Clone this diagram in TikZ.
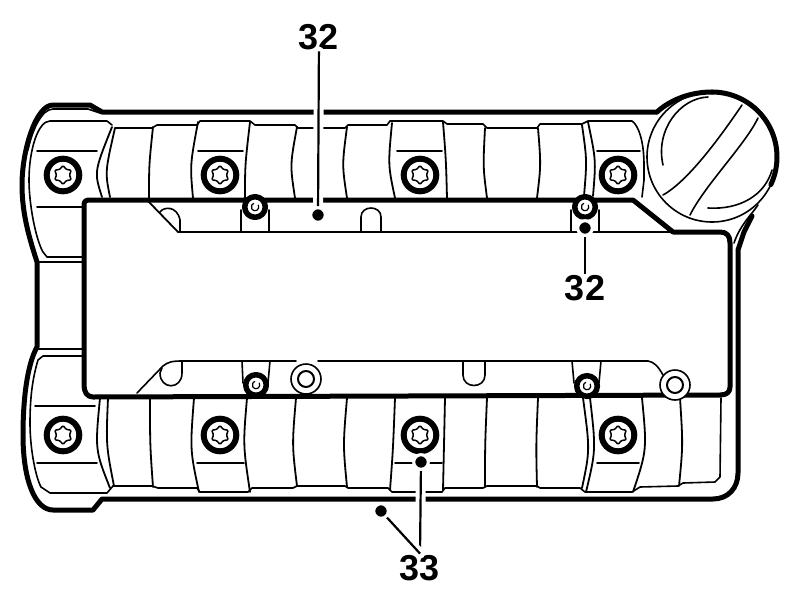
\documentclass[tikz,border=0pt]{standalone}
\usepackage{fontspec}
\setmainfont{Liberation Sans}
\begin{document}
\begin{tikzpicture}[
        x = 1pt,
        y = -1pt,
        line join = round,
        line cap = round,
        heavy/.style = {line width = 5pt},
        fine/.style = {line width = 1.6pt},
        rib/.style = {line width = 1.8pt},
        callout/.style = {font = \fontsize{36}{36}\selectfont\bfseries, inner sep = 1.5pt},
        leader/.style = {line width = 2.2pt, line cap = butt, preaction = {draw, white, line width = 10pt}},
        leaderdot/.style = {circle, fill = black, draw = white, line width = 3pt, inner sep = 0pt, minimum size = 14.5pt}
    ]
        \useasboundingbox (0,0) rectangle (800,613);
        \fill[white] (0,0) rectangle (800,613);
        \draw[heavy] (657,112) -- (102,112) -- (90,105) -- (53,105) .. controls (36,105) and (22,150) .. (22,185)
            .. controls (22,215) and (30,240) .. (37,262) -- (37,347) .. controls (27,365) and (23,400) .. (23,435)
            .. controls (23,480) and (35,510) .. (53,510) -- (93,510) -- (102,499) -- (713,499)
            .. controls (728,499) and (738,488) .. (738,473) -- (738,250) -- (744,232) -- (752,216);
        \draw[fine] (734,243) .. controls (740,225) and (752,214) .. (758,205);
        \draw[fine] (100,113) -- (88,109) -- (53,109) .. controls (42,109) and (32,130) .. (28,150);
        \draw[fine] (112,125) -- (107,121) -- (50,121) .. controls (38,121) and (29,150) .. (29,180)
            .. controls (29,205) and (36,240) .. (43,252) -- (47,257) -- (82,257);
        \draw[fine] (37,262) -- (82,262);
        \draw[fine] (35,349) -- (82,349);
        \draw[fine] (82,356) -- (43,356) -- (38,360) .. controls (32,380) and (30,400) .. (30,423)
            .. controls (30,450) and (36,478) .. (41,487) -- (50,493) -- (107,493) -- (113,486);
        \draw[fine] (115,128) -- (152,128) -- (157,125) -- (197,125) -- (200,121) -- (250,121) -- (255,125)
            -- (295,125) -- (298,128) -- (345,128) -- (348,125) -- (387,125) -- (390,121) -- (443,121)
            -- (447,124) -- (483,124) -- (487,128) -- (537,128) -- (540,124) -- (582,124) -- (588,121)
            -- (632,121) .. controls (638,125) and (644,140) .. (644,165) -- (644,180) -- (642,197);
        \draw[fine] (113,486) -- (152,486) -- (158,488) -- (197,488) -- (200,492) -- (248,492) -- (252,488)
            -- (293,488) -- (297,486) -- (345,486) -- (348,488) -- (388,488) -- (392,492) -- (442,492)
            -- (445,488) -- (483,488) -- (487,486) -- (537,486) -- (540,488) -- (580,488) -- (585,492)
            -- (632,492) -- (640,487) -- (678,486) -- (683,483) -- (715,482) -- (720,477) -- (721,398);
        \foreach \ax/\ay/\bx/\by/\cx/\cy in {
            112/127/94/172/102/197, 115/128/105/172/110/197, 153/127/149/165/149/198,
            198/122/190/165/193/198, 250/122/245/165/245/198, 297/127/290/165/295/198,
            347/127/342/165/347/198, 392/123/388/165/395/198, 443/122/446/160/447/198,
            485/128/483/167/487/198, 538/128/541/165/537/198, 582/125/587/160/584/196,
            588/122/596/160/593/196,
            108/398/106/445/114/486, 100/398/95/450/110/488, 150/398/150/445/153/487,
            194/398/190/450/199/492, 247/398/243/445/250/492, 296/398/292/445/297/486,
            347/398/343/445/347/487, 395/398/393/450/390/490, 445/398/444/445/443/490,
            487/398/485/445/485/486, 538/398/536/445/537/487, 583/398/590/450/582/488,
            590/398/596/450/586/492, 642/398/647/450/633/492, 680/398/683/445/679/486}
            \draw[rib] (\ax,\ay) .. controls (\bx,\by) .. (\cx,\cy);
        \foreach \ax/\bx/\ly in {
            37/97/151, 198/243/151, 397/442/151, 597/640/151, 37/82/207,
            35/95/406, 37/97/463, 197/244/463, 395/442/463, 597/639/463}
            \draw[rib] (\ax,\ly) -- (\bx,\ly);
        \draw[heavy] (147,200) -- (633,200) -- (673,232) -- (720,232) .. controls (727,232) and (730,236) .. (730,243)
            -- (730,387) .. controls (730,392) and (727,395) .. (720,395) -- (93,397)
            .. controls (87,397) and (84,392) .. (84,385) -- (84,205) .. controls (84,201) and (86,200) .. (90,200) -- (147,200);
        \draw[rib] (147,200) -- (178,232) -- (673,232);
        \draw[fine] (160,212) .. controls (163,207) and (177,205) .. (180,220) -- (180,232);
        \draw[fine] (361,232) -- (361,217) .. controls (361,205) and (381,205) .. (381,217) -- (381,232);
        \draw[fine] (241,210) -- (241,232);
        \draw[fine] (269,210) -- (269,232);
        \draw[fine] (571,210) -- (571,232);
        \draw[fine] (599,210) -- (599,232);
        \draw[fine] (137,393) -- (163,366) .. controls (168,362) and (172,361) .. (182,361) -- (296,361);
        \draw[fine] (318,361) -- (648,361) .. controls (654,362) and (658,366) .. (663,375);
        \draw[fine] (182,361) -- (182,373) .. controls (182,390) and (160,390) .. (160,373) -- (162,368);
        \draw[fine] (463,361) -- (463,375) .. controls (463,389) and (485,389) .. (485,375) -- (485,361);
        \draw[fine] (242,361) -- (243,383);
        \draw[fine] (270,361) -- (268,383);
        \draw[fine] (572,361) -- (574,383);
        \draw[fine] (601,361) -- (599,383);
        \foreach \bx/\by in {63/175, 220/175, 420/175, 618/175, 63/435, 220/435, 420/435, 618/435} {
            \begin{scope}[shift={(\bx,\by)}]
                \draw[fill = white, line width = 6pt] (0,0) circle (16.3);
                \draw[line width = 1.5pt, rounded corners = 1pt] (90:9.5) -- (120:6.5) -- (150:9.5) -- (180:6.5)
                    -- (210:9.5) -- (240:6.5) -- (270:9.5) -- (300:6.5) -- (330:9.5) -- (0:6.5)
                    -- (30:9.5) -- (60:6.5) -- cycle;
            \end{scope}
        }
        \foreach \bx/\by in {255/207, 585/207, 256/385, 587/386} {
            \begin{scope}[shift={(\bx,\by)}]
                \draw[fill = white, line width = 5.5pt] (0,0) circle (10.3);
                \draw[line width = 1.2pt] (-30:3.8) arc[start angle = -30, end angle = 250, radius = 3.8];
            \end{scope}
        }
        \foreach \bx/\by in {306/379, 675/385} {
            \begin{scope}[shift={(\bx,\by)}]
                \draw[fill = white, line width = 1.6pt] (0,0) circle (15);
                \draw[line width = 2pt] (0,0) circle (8);
            \end{scope}
        }
        \draw[fill = white, fine] (712,157) circle (65);
        \draw[heavy] (657,112) .. controls (670,100) and (690,92) .. (712,92);
        \draw[heavy] (712,92) arc[start angle = -90, end angle = 25, radius = 65];
        \draw[fine] (663,195) .. controls (690,180) and (725,130) .. (742,105);
        \draw[fine] (690,215) .. controls (705,185) and (745,145) .. (758,118);
        \draw[fine] (663,165) .. controls (655,130) and (680,98) .. (708,97);
        \draw[fine] (708,208) .. controls (740,210) and (765,195) .. (772,170);
        \node[callout] (labeltop) at (319,37) {32};
        \node[callout] (labelright) at (585,288) {32};
        \node[callout] (labelbottom) at (420,568) {33};
        \node[leaderdot] (dottop) at (318,215) {};
        \node[leaderdot] (dotright) at (585,228) {};
        \node[leaderdot] (dotbolt) at (421,462) {};
        \node[leaderdot] (dotcover) at (381,511) {};
        \draw[leader] (labeltop) -- (dottop);
        \draw[leader] (labelright) -- (dotright);
        \draw[leader] (labelbottom.north) -- (dotbolt);
        \draw[leader] (labelbottom.north) -- (dotcover);
        \node[leaderdot] at (dottop) {};
        \node[leaderdot] at (dotright) {};
        \node[leaderdot] at (dotbolt) {};
        \node[leaderdot] at (dotcover) {};
    \end{tikzpicture}
\end{document}
